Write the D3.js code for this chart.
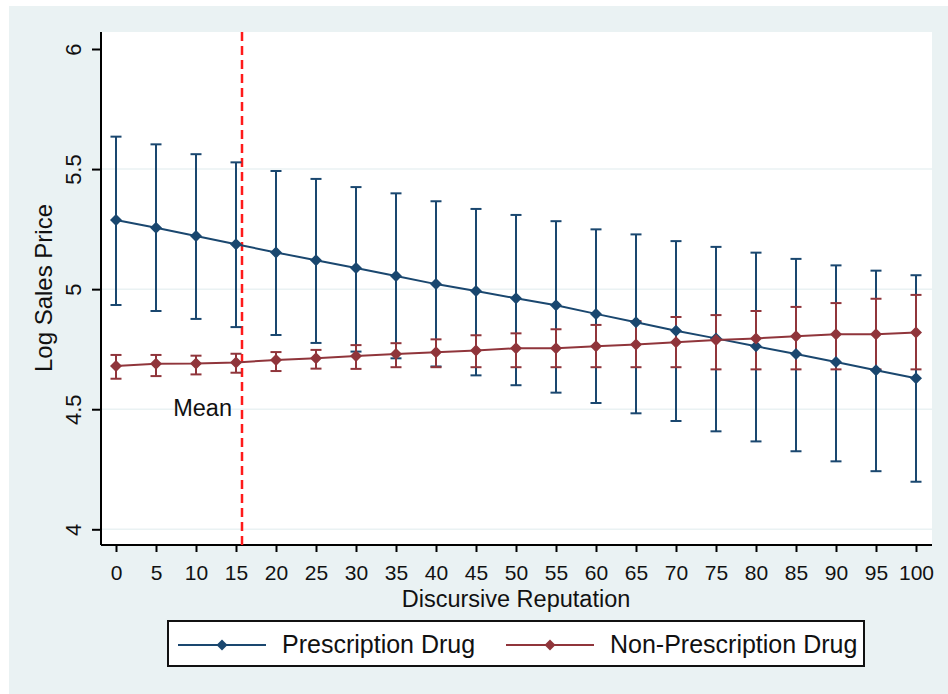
<!DOCTYPE html>
<html>
<head>
<meta charset="utf-8">
<script src="https://cdn.jsdelivr.net/npm/d3@7"></script>
<style>
  body { margin: 0; background: #ffffff; }
  svg { display: block; font-family: "Liberation Sans", Arial, sans-serif; }
</style>
</head>
<body>
<svg id="chart" width="948" height="694"></svg>
<script>
const reputation = [0, 5, 10, 15, 20, 25, 30, 35, 40, 45, 50, 55, 60, 65, 70, 75, 80, 85, 90, 95, 100]

const prescMean = [5.288, 5.256, 5.221, 5.187, 5.153, 5.120, 5.088, 5.055, 5.021, 4.992, 4.962,
  4.933, 4.897, 4.862, 4.827, 4.795, 4.762, 4.730, 4.697, 4.662, 4.629]
const prescHigh = [5.635, 5.603, 5.562, 5.528, 5.492, 5.459, 5.425, 5.399, 5.366, 5.334, 5.309,
  5.283, 5.249, 5.228, 5.200, 5.176, 5.152, 5.126, 5.099, 5.077, 5.058]
const prescLow = [4.934, 4.909, 4.876, 4.842, 4.809, 4.776, 4.740, 4.712, 4.678, 4.641, 4.600,
  4.569, 4.526, 4.483, 4.451, 4.408, 4.366, 4.325, 4.283, 4.242, 4.198]

const nonPrescMean = [4.680, 4.689, 4.690, 4.695, 4.705, 4.712, 4.722, 4.730, 4.737, 4.745, 4.754,
  4.754, 4.762, 4.770, 4.779, 4.788, 4.795, 4.804, 4.812, 4.812, 4.820]
const nonPrescHigh = [4.726, 4.726, 4.723, 4.731, 4.738, 4.747, 4.767, 4.775, 4.791, 4.808, 4.816,
  4.833, 4.851, 4.867, 4.884, 4.892, 4.909, 4.926, 4.942, 4.960, 4.976]
const nonPrescLow = [4.627, 4.638, 4.645, 4.652, 4.659, 4.669, 4.668, 4.675, 4.675, 4.675, 4.675,
  4.675, 4.675, 4.675, 4.675, 4.666, 4.666, 4.666, 4.666, 4.666, 4.666]

const meanReputation = 15.75
const xTicks = [0, 5, 10, 15, 20, 25, 30, 35, 40, 45, 50, 55, 60, 65, 70, 75, 80, 85, 90, 95, 100]
const yTicks = [4, 4.5, 5, 5.5, 6]
const yTickLabels = ['4', '4.5', '5', '5.5', '6']
const gridTicks = [4, 4.5, 5, 5.5]
const seriesNames = ['Prescription Drug', 'Non-Prescription Drug']

const blue = '#1a476f'
const red = '#90353b'
const bg = '#eaf2f3'

const svg = d3.select('#chart')

// outer graph region
svg.append('rect')
  .attr('x', 9).attr('y', 6)
  .attr('width', 939).attr('height', 688)
  .attr('fill', bg)

const plot = { left: 101, right: 932, top: 32, bottom: 545 }

svg.append('rect')
  .attr('x', plot.left).attr('y', plot.top)
  .attr('width', plot.right - plot.left).attr('height', plot.bottom - plot.top)
  .attr('fill', '#ffffff')

const x = d3.scaleLinear().domain([0, 100]).range([116, 916])
const y = d3.scaleLinear().domain([4, 6]).range([529.3, 49])

// grid lines
svg.append('g')
  .selectAll('line')
  .data(gridTicks)
  .join('line')
  .attr('x1', plot.left).attr('x2', plot.right)
  .attr('y1', d => y(d)).attr('y2', d => y(d))
  .attr('stroke', bg)
  .attr('stroke-width', 1.5)

// axes
const yAxis = svg.append('g')
  .attr('transform', `translate(${plot.left},0)`)
  .call(d3.axisLeft(y).tickValues(yTicks).tickSize(9).tickFormat((d, i) => yTickLabels[i]))
yAxis.select('.domain')
  .attr('d', `M0,${plot.top}V${plot.bottom}`)
  .attr('stroke', '#000').attr('stroke-width', 2)
yAxis.selectAll('.tick line').attr('stroke', '#000').attr('stroke-width', 2)
yAxis.selectAll('.tick text')
  .attr('x', null).attr('dy', null)
  .attr('text-anchor', 'middle')
  .attr('transform', 'translate(-20,0) rotate(-90)')
  .attr('y', 0)
  .attr('font-size', 22)
  .attr('fill', '#111')
  .attr('font-family', '"Liberation Sans", Arial, sans-serif')

const xAxis = svg.append('g')
  .attr('transform', `translate(0,${plot.bottom})`)
  .call(d3.axisBottom(x).tickValues(xTicks).tickSize(7).tickFormat(d3.format('d')))
xAxis.select('.domain')
  .attr('d', `M${plot.left},0H${plot.right}`)
  .attr('stroke', '#000').attr('stroke-width', 2)
xAxis.selectAll('.tick line').attr('stroke', '#000').attr('stroke-width', 2)
xAxis.selectAll('.tick text')
  .attr('y', 35).attr('dy', null)
  .attr('font-size', 21)
  .attr('fill', '#111')
  .attr('font-family', '"Liberation Sans", Arial, sans-serif')

// axis titles
svg.append('text')
  .attr('x', 516).attr('y', 607)
  .attr('text-anchor', 'middle')
  .attr('font-size', 23.5)
  .attr('fill', '#111')
  .text('Discursive Reputation')

svg.append('text')
  .attr('transform', 'translate(52,288) rotate(-90)')
  .attr('text-anchor', 'middle')
  .attr('font-size', 24)
  .attr('fill', '#111')
  .text('Log Sales Price')

// mean reputation line
svg.append('line')
  .attr('x1', x(meanReputation)).attr('x2', x(meanReputation))
  .attr('y1', plot.top).attr('y2', plot.bottom)
  .attr('stroke', '#ff1a1a')
  .attr('stroke-width', 2.5)
  .attr('stroke-dasharray', '9,5')

svg.append('text')
  .attr('x', x(meanReputation) - 10).attr('y', 416)
  .attr('text-anchor', 'end')
  .attr('font-size', 23.5)
  .attr('fill', '#111')
  .text('Mean')

const diamond = (s) => `M0,${-s}L${s},0L0,${s}L${-s},0Z`

function drawSeries (low, high, color) {
  const g = svg.append('g')
  const bars = g.selectAll('g')
    .data(reputation.map((r, i) => ({ r, lo: low[i], hi: high[i] })))
    .join('g')
  bars.append('line')
    .attr('x1', d => x(d.r)).attr('x2', d => x(d.r))
    .attr('y1', d => y(d.lo)).attr('y2', d => y(d.hi))
    .attr('stroke', color).attr('stroke-width', 2)
  bars.append('line')
    .attr('x1', d => x(d.r) - 5.5).attr('x2', d => x(d.r) + 5.5)
    .attr('y1', d => y(d.hi)).attr('y2', d => y(d.hi))
    .attr('stroke', color).attr('stroke-width', 2)
  bars.append('line')
    .attr('x1', d => x(d.r) - 5.5).attr('x2', d => x(d.r) + 5.5)
    .attr('y1', d => y(d.lo)).attr('y2', d => y(d.lo))
    .attr('stroke', color).attr('stroke-width', 2)
  return g
}

function drawLine (mean, color) {
  const pts = reputation.map((r, i) => [r, mean[i]])
  svg.append('path')
    .datum(pts)
    .attr('fill', 'none')
    .attr('stroke', color)
    .attr('stroke-width', 2)
    .attr('d', d3.line().x(d => x(d[0])).y(d => y(d[1])))
  svg.append('g')
    .selectAll('path')
    .data(pts)
    .join('path')
    .attr('transform', d => `translate(${x(d[0])},${y(d[1])})`)
    .attr('d', diamond(6))
    .attr('fill', color)
}

drawSeries(prescLow, prescHigh, blue)
drawSeries(nonPrescLow, nonPrescHigh, red)
drawLine(prescMean, blue)
drawLine(nonPrescMean, red)

// legend
const legend = svg.append('g')
legend.append('rect')
  .attr('x', 168).attr('y', 621)
  .attr('width', 696).attr('height', 45)
  .attr('fill', '#ffffff')
  .attr('stroke', '#111')
  .attr('stroke-width', 2)

const legendItems = [
  { name: seriesNames[0], color: blue, x0: 178 },
  { name: seriesNames[1], color: red, x0: 506 }
]
legendItems.forEach(item => {
  legend.append('line')
    .attr('x1', item.x0).attr('x2', item.x0 + 88)
    .attr('y1', 645).attr('y2', 645)
    .attr('stroke', item.color).attr('stroke-width', 2)
  legend.append('path')
    .attr('transform', `translate(${item.x0 + 44},645)`)
    .attr('d', diamond(5.5))
    .attr('fill', item.color)
  legend.append('text')
    .attr('x', item.x0 + 104).attr('y', 653)
    .attr('font-size', 25)
    .attr('fill', '#111')
    .text(item.name)
})
</script>
</body>
</html>
